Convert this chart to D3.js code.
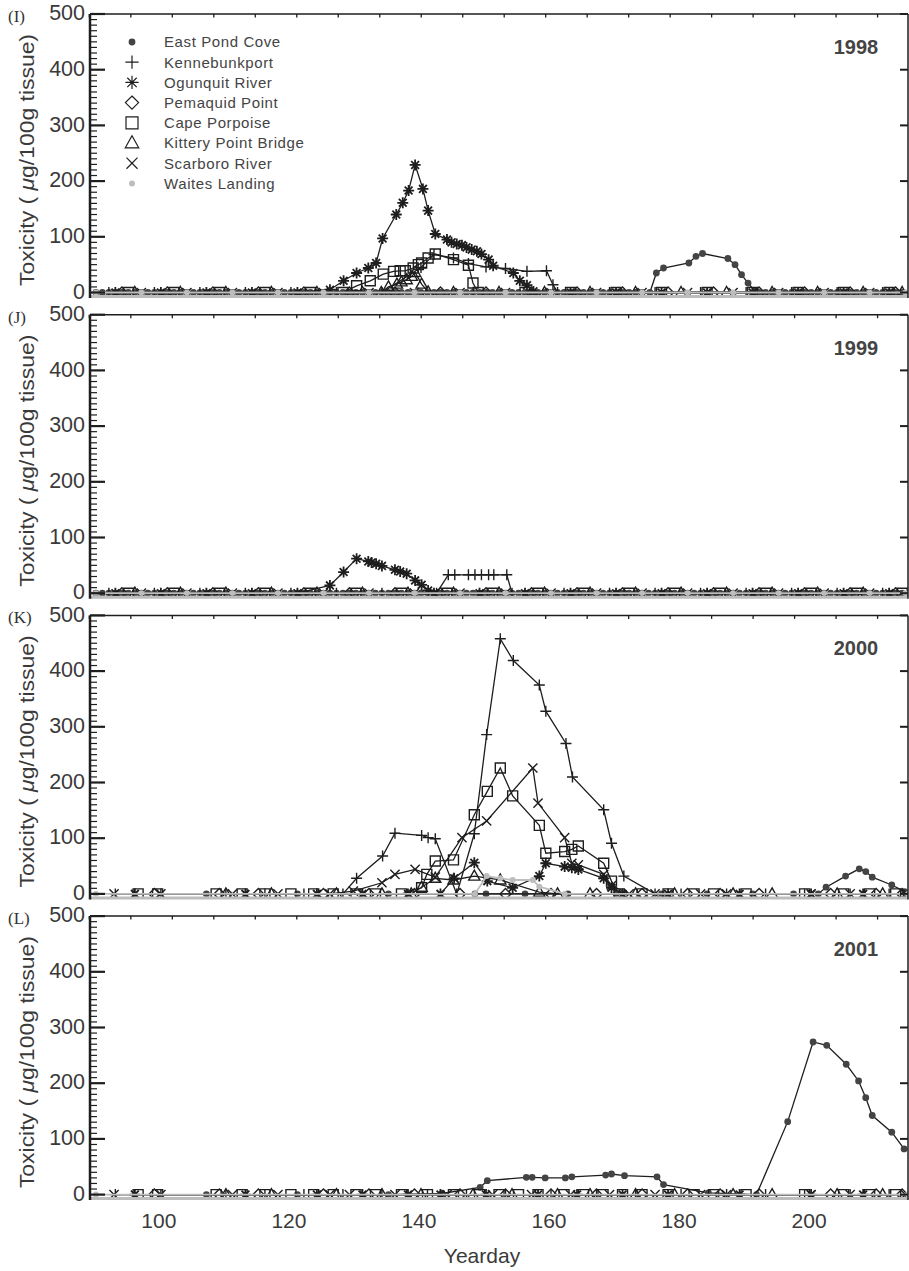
<!DOCTYPE html>
<html><head><meta charset="utf-8">
<script src="https://cdn.jsdelivr.net/npm/d3@7"></script>
<style>body{margin:0;background:#fff}</style>
</head><body>
<svg id="chart" width="909" height="1271"></svg>
<script>
// ---- labels ----
const stationNames = ["East Pond Cove","Kennebunkport","Ogunquit River","Pemaquid Point","Cape Porpoise","Kittery Point Bridge","Scarboro River","Waites Landing"];
const stationSymbols = ["dot","plus","asterisk","diamond","square","triangle","times","greydot"];
const yearLabels = ["1998","1999","2000","2001"];
const panelTags = ["(I)","(J)","(K)","(L)"];
const yTickValues = [0,100,200,300,400,500];
const xTickValues = [100,120,140,160,180,200];

// ---- 1998: [yearday, toxicity] ----
const eastPondCoveZeroDays1998 = [90,91,92,93,94,95,96,97,98,99,100,101,102,103,104,105,106,107,108,109,110,111,112,113,114,115,116,117,118,119,120,121,122,123,124,125,126,127,128,129,130,131,132,133,134,135,136,137,138,139,140,141,142,143,144,145,146,147,148,149,150,151,152,153,154,155,156,157,158,159,160,161,162,163,164,165,166,167,168,169,170,171,172,173,174,192,193,194,195,196,197,198,199,200,201,202,203,204,205,206,207,208,209,210,211,212,213,214];
const eastPondCove1998 = [[175.2,0],[176.2,35],[177.3,44],[181.2,53],[182.3,65],[183.3,70],[187.2,61],[188.3,50],[189.3,32],[190.3,17],[191.3,3]];
const kennebunkport1998 = [[92,0],[99,0],[106,0],[113,0],[120,0],[127,0],[134,0],[140,45],[142,68],[145,62],[147.3,52],[150,46],[153,43],[156.3,38],[159.3,39],[160.3,14],[161,0],[169,0],[176,0],[183,0],[190,0],[197,0],[204,0],[211,0]];
const ogunquit1998 = [[93,0],[100,0],[107,0],[114,0],[121,0],[126,5],[128.1,21],[130.1,35],[131.9,44],[133.1,53],[134.1,97],[136.2,140],[137.2,161],[138.1,183],[139.1,229],[140.3,186],[141.1,147],[142.2,105],[144,95],[144.7,90],[145.5,87],[146.3,85],[147,81],[147.8,77],[148.6,74],[149.3,69],[150.4,59],[151.1,48],[154.2,35],[155.2,21],[156.3,13],[157.3,2],[163,0],[170,0],[177,0],[184,0],[191,0],[198,0],[205,0],[212,0]];
const pemaquid1998 = [[94,0],[101,0],[108,0],[115,0],[122,0],[129,0],[136,0],[143,0],[150,0],[157,0],[164,0],[171,0],[178,0],[185,0],[192,0],[199,0],[206,0],[213,0]];
const capePorpoise1998 = [[95,0],[102,0],[109,0],[116,0],[123,0],[128,0],[130.1,12],[132.2,21],[134.2,33],[135.8,38],[136.8,39],[137.6,39],[138.8,44],[139.6,50],[140.1,53],[141.1,62],[142.2,69],[145,59],[147.3,49],[148,17],[148.8,0],[156,0],[163,0],[170,0],[177,0],[184,0],[191,0],[198,0],[205,0],[212,0]];
const kittery1998 = [[96,0],[103,0],[110,0],[117,0],[124,0],[131,0],[133.9,0],[135,10],[136.3,15],[137,19],[137.8,23],[138.6,29],[139.1,36],[140.1,15],[141.1,1],[145,0],[152,0],[159,0],[166,0],[173,0],[180,0],[187,0],[194,0],[201,0],[208,0],[214,0]];
const scarboro1998 = [[97,0],[104,0],[111,0],[118,0],[125,0],[132,0],[139,0],[146,0],[153,0],[160,0],[167,0],[174,0],[181,0],[188,0],[195,0],[202,0],[209,0]];
const waites1998 = [[90,0],[97,0],[104,0],[111,0],[118,0],[125,0],[132,0],[139,0],[146,0],[153,0],[160,0],[167,0],[174,0],[181,0],[188,0],[195,0],[202,0],[209,0],[214.5,0]];

// ---- 1999 ----
const eastPondCoveZeroDays1999 = [90,91,92,93,94,95,96,97,98,99,100,101,102,103,104,105,106,107,108,109,110,111,112,113,114,115,116,117,118,119,120,121,122,123,124,125,126,127,128,129,130,131,132,133,134,135,136,137,138,139,140,141,142,143,144,145,146,147,148,149,150,151,152,153,154,155,156,157,158,159,160,161,162,163,164,165,166,167,168,169,170,171,172,173,174,175,176,177,178,179,180,181,182,183,184,185,186,187,188,189,190,191,192,193,194,195,196,197,198,199,200,201,202,203,204,205,206,207,208,209,210,211,212,213,214];
const eastPondCove1999 = [];
const kennebunkport1999 = [[92,0],[99,0],[106,0],[113,0],[120,0],[127,0],[134,0],[142.4,0],[144.2,33],[145.2,33],[147.3,33],[148.3,33],[149.3,33],[150.4,33],[151.2,33],[153.2,33],[154,0],[162,0],[169,0],[176,0],[183,0],[190,0],[197,0],[204,0],[211,0]];
const ogunquit1999 = [[93,0],[100,0],[107,0],[114,0],[121,0],[126,14],[128.1,38],[130.1,62],[131.9,57],[132.4,55],[133.1,53],[134,49],[136,42],[136.8,39],[137.8,35],[139.1,23],[140.1,15],[141.1,5],[142,0],[149,0],[156,0],[163,0],[170,0],[177,0],[184,0],[191,0],[198,0],[205,0],[212,0]];
const pemaquid1999 = [[94,0],[101,0],[108,0],[115,0],[122,0],[129,0],[136,0],[143,0],[150,0],[157,0],[164,0],[171,0],[178,0],[185,0],[192,0],[199,0],[206,0],[213,0]];
const capePorpoise1999 = [[95,0],[102,0],[109,0],[116,0],[123,0],[130,0],[137,0],[144,0],[151,0],[158,0],[165,0],[172,0],[179,0],[186,0],[193,0],[200,0],[207,0],[214,0]];
const kittery1999 = [[96,0],[103,0],[110,0],[117,0],[124,0],[131,0],[138,0],[145,0],[152,0],[159,0],[166,0],[173,0],[180,0],[187,0],[194,0],[201,0],[208,0]];
const scarboro1999 = [[97,0],[104,0],[111,0],[118,0],[125,0],[132,0],[139,0],[146,0],[153,0],[160,0],[167,0],[174,0],[181,0],[188,0],[195,0],[202,0],[209,0]];
const waites1999 = [[90,0],[97,0],[104,0],[111,0],[118,0],[125,0],[132,0],[139,0],[146,0],[153,0],[160,0],[167,0],[174,0],[181,0],[188,0],[195,0],[202,0],[209,0],[214.5,0]];

// ---- 2000 ----
const eastPondCove2000 = [[107,0],[121,0],[135,0],[148.3,0],[150,0],[156,0],[162.6,0],[170,0],[177,0],[184,0],[191,0],[197.3,0],[201.1,0],[202.3,12],[205.3,32],[207.4,45],[208.4,40],[209.4,30],[212.4,16],[214.4,4]];
const kennebunkport2000 = [[93,0],[100,0],[110,0],[116,0],[122,0],[128,0],[130.1,28],[134.1,68],[136,109],[140.1,105],[141.1,101],[142.2,99],[145.5,0],[148.2,108],[150.1,286],[152.2,458],[154.2,419],[158.2,375],[159.2,328],[162.3,270],[163.3,210],[168.1,151],[169.3,91],[171.2,32],[176,0],[180,0],[187,0],[193,0],[199,0],[206,0],[212,0]];
const ogunquit2000 = [[96,0],[113,0],[124,0],[131,0],[138,0],[143,0],[145.1,28],[148.2,56],[150.2,23],[154.1,11],[158.2,32],[159.2,55],[162.1,49],[163.2,47],[164.2,44],[168.1,28],[169.3,11],[171,0],[178,0],[189,0],[200,0],[208,0]];
const pemaquid2000 = [[99,0],[109,0],[115,0],[125,0],[132,0],[139,0],[146,0],[153,0],[160,0],[167,0],[174,0],[181,0],[186,0],[192,0],[203,0],[210,0],[214,0]];
const capePorpoise2000 = [[96.5,0],[99.5,0],[108.5,0],[112.5,0],[116,0],[120,0],[123.5,0],[126.5,0],[130,0],[133,0],[137,0],[140.1,11],[140.9,35],[142.2,59],[145,61],[148.2,142],[150.2,184],[152.2,226],[154.1,176],[158.2,123],[159.2,73],[162.1,76],[163.2,80],[164.2,86],[168.1,55],[169.3,23],[170.5,0],[174,0],[178,0],[182,0],[185,0],[190,0],[199,0],[205,0],[209,0],[213,0]];
const kittery2000 = [[110,0],[117,0],[127,0],[134,0],[138.5,0],[140.1,12],[142.2,28],[145,25],[148.2,32],[152.2,25],[158.2,3],[161,0],[166,0],[173,0],[179,0],[188,0],[194,0],[204,0],[211,0]];
const scarboro2000 = [[92.8,0],[100,0],[111,0],[118,0],[126,0],[129.6,5],[134,20],[136,35],[139.1,44],[142.2,30],[146.3,101],[150.1,131],[157.2,226],[158,163],[162.1,101],[163.2,55],[164.2,52],[168.1,35],[169.3,15],[172,0],[176,0],[183,0],[187,0],[200,0],[206,0],[214.5,0]];
const waites2000 = [[90,0],[148.3,0],[150.1,32],[152.2,28],[154.1,25],[157.2,25],[158.2,13],[162.1,0],[214.9,0]];

// ---- 2001 ----
const eastPondCove2001 = [[107,0],[121,0],[135,0],[143.2,2],[149.1,13],[150.2,25],[156.2,31],[157.1,31],[159.1,30],[162.2,30],[163.2,32],[168.4,35],[169.3,37],[171.3,34],[176.3,32],[177.3,18],[184.2,3],[191.6,0],[196.4,131],[200.3,274],[202.4,268],[205.4,234],[207.3,204],[208.4,174],[209.4,142],[212.4,112],[214.3,82]];
const kennebunkport2001 = [[93,0],[100,0],[110,0],[116,0],[122,0],[128,0],[134,0],[141,0],[147,0],[153,0],[160,0],[167,0],[173,0],[180,0],[187,0],[193,0],[199,0],[206,0],[212,0]];
const ogunquit2001 = [[96,0],[113,0],[124,0],[131,0],[138,0],[143,0],[150,0],[158,0],[164,0],[171,0],[178,0],[189,0],[200,0],[208,0]];
const pemaquid2001 = [[99,0],[109,0],[115,0],[125,0],[132,0],[139,0],[146,0],[153,0],[160,0],[167,0],[174,0],[181,0],[186,0],[192,0],[203,0],[210,0],[214,0]];
const capePorpoise2001 = [[96.5,0],[99.5,0],[108.5,0],[112.5,0],[116,0],[120,0],[123.5,0],[126.5,0],[130,0],[133,0],[137,0],[141,0],[145,0],[149,0],[152,0],[155,0],[158,0],[162,0],[165,0],[168,0],[171,0],[174,0],[178,0],[182,0],[185,0],[190,0],[199,0],[205,0],[209,0],[213,0]];
const kittery2001 = [[110,0],[117,0],[127,0],[134,0],[140,0],[148,0],[154,0],[161,0],[166,0],[173,0],[179,0],[188,0],[194,0],[204,0],[211,0]];
const scarboro2001 = [[92.8,0],[100,0],[111,0],[118,0],[126,0],[129,0],[136,0],[144,0],[151,0],[157,0],[163,0],[169,0],[176,0],[183,0],[187,0],[200,0],[206,0],[214.5,0]];
const waites2001 = [[90,0],[214.9,0]];

// merge daily zero readings with the measured values, ordered by day
function withZeroDays(readings, zeroDays) {
  return readings.concat(zeroDays.map(d => [d, 0])).sort((a, b) => a[0] - b[0]);
}

const panelSeries = [
  [withZeroDays(eastPondCove1998, eastPondCoveZeroDays1998),kennebunkport1998,ogunquit1998,pemaquid1998,capePorpoise1998,kittery1998,scarboro1998,waites1998],
  [withZeroDays(eastPondCove1999, eastPondCoveZeroDays1999),kennebunkport1999,ogunquit1999,pemaquid1999,capePorpoise1999,kittery1999,scarboro1999,waites1999],
  [eastPondCove2000,kennebunkport2000,ogunquit2000,pemaquid2000,capePorpoise2000,kittery2000,scarboro2000,waites2000],
  [eastPondCove2001,kennebunkport2001,ogunquit2001,pemaquid2001,capePorpoise2001,kittery2001,scarboro2001,waites2001]
];

// ---- layout ----
const svg = d3.select("#chart");
const left = 90, right = 908;
const panelTops = [14, 314.7, 615.4, 916.1];
const zeroOffset = 278.5;     // px from the 500 line down to the 0 line
const ink = "#1e1e1e", textInk = "#3a3a3a";
const sans = "'Liberation Sans', Arial, Helvetica, sans-serif";

const x = d3.scaleLinear().domain([89.1, 214.9]).range([left, right]);
const topTickDays = d3.range(89.0, 215, 6.38);

function symbolPath(kind, k) {
  const a = 5.5 * k, b = 3.9 * k, c = 5 * k, t = 4.6 * k;
  switch (kind) {
    case "plus": return `M${-a},0H${a}M0,${-a}V${a}`;
    case "times": return `M${-t},${-t}L${t},${t}M${-t},${t}L${t},${-t}`;
    case "asterisk": return `M${-a},0H${a}M0,${-a}V${a}M${-b},${-b}L${b},${b}M${-b},${b}L${b},${-b}`;
    case "diamond": return `M0,${-a}L${a},0L0,${a}L${-a},0Z`;
    case "square": return `M${-c},${-c}H${c}V${c}H${-c}Z`;
    case "triangle": return `M0,${-6 * k}L${5.6 * k},${4 * k}H${-5.6 * k}Z`;
  }
  return null;
}

function drawMarker(g, kind, px, py, k = 1, sw) {
  if (kind === "dot") {
    g.append("circle").attr("cx", px).attr("cy", py).attr("r", 3.4).attr("fill", "#444");
  } else if (kind === "greydot") {
    g.append("circle").attr("cx", px).attr("cy", py).attr("r", 3).attr("fill", "#bdbdbd");
  } else {
    g.append("path").attr("transform", `translate(${px},${py})`)
      .attr("d", symbolPath(kind, k)).attr("fill", "none")
      .attr("stroke", ink).attr("stroke-width", sw || (kind === "asterisk" ? 1.8 : 1.4));
  }
}

panelTops.forEach((top, p) => {
  const zeroY = top + zeroOffset;
  const bottom = zeroY + 5.5;
  const y = d3.scaleLinear().domain([0, 500]).range([zeroY, top]);
  const g = svg.append("g");

  const clipId = "clip" + p;
  svg.append("clipPath").attr("id", clipId).append("rect")
    .attr("x", left).attr("y", top).attr("width", right - left).attr("height", zeroOffset + 2.5);

  // grey floor line
  g.append("line").attr("x1", left).attr("x2", right).attr("y1", zeroY + 4).attr("y2", zeroY + 4)
    .attr("stroke", "#bdbdbd").attr("stroke-width", 3);

  const plot = g.append("g").attr("clip-path", `url(#${clipId})`);
  const line = d3.line().x(d => x(d[0])).y(d => y(d[1]));

  panelSeries[p].forEach((series, s) => {
    const kind = stationSymbols[s];
    const grey = kind === "greydot";
    plot.append("path").attr("d", line(series)).attr("fill", "none")
      .attr("stroke", grey ? "#bdbdbd" : ink).attr("stroke-width", grey ? 1.8 : 1.3);
    series.forEach(d => drawMarker(plot, kind, x(d[0]), y(d[1])));
  });

  // frame: top, right, left
  g.append("line").attr("x1", left).attr("x2", right).attr("y1", top).attr("y2", top)
    .attr("stroke", ink).attr("stroke-width", 1.5);
  g.append("line").attr("x1", right).attr("x2", right).attr("y1", top).attr("y2", bottom)
    .attr("stroke", ink).attr("stroke-width", 1.5);
  g.append("line").attr("x1", left).attr("x2", left).attr("y1", top).attr("y2", bottom)
    .attr("stroke", ink).attr("stroke-width", 2.5);

  // top minor ticks
  topTickDays.forEach(dv => {
    g.append("line").attr("x1", x(dv)).attr("x2", x(dv)).attr("y1", top).attr("y2", top + 3.5)
      .attr("stroke", ink).attr("stroke-width", 1.3);
  });

  // left ticks every 10, long ones every 100
  d3.range(0, 501, 10).forEach(v => {
    const major = v % 100 === 0;
    g.append("line").attr("x1", left).attr("x2", left + (major ? 15 : 7))
      .attr("y1", y(v)).attr("y2", y(v)).attr("stroke", ink).attr("stroke-width", major ? 2.2 : 1.2);
  });
  // right major ticks
  yTickValues.forEach(v => {
    g.append("line").attr("x1", right - 8).attr("x2", right).attr("y1", y(v)).attr("y2", y(v))
      .attr("stroke", ink).attr("stroke-width", 2);
  });

  // y tick labels
  yTickValues.forEach(v => {
    g.append("text").attr("x", 85).attr("y", y(v) - 1.5).attr("dy", "0.36em")
      .attr("text-anchor", "end").attr("font-family", sans).attr("font-size", 21.5)
      .attr("fill", textInk).text(v);
  });

  // panel tag
  g.append("text").attr("x", 8).attr("y", top + 8)
    .attr("font-family", "'Liberation Serif', 'Times New Roman', serif").attr("font-size", 17)
    .attr("fill", "#333").text(panelTags[p]);

  // year
  g.append("text").attr("x", 856).attr("y", top + 40).attr("text-anchor", "middle")
    .attr("font-family", sans).attr("font-weight", "bold").attr("font-size", 20)
    .attr("fill", "#444").text(yearLabels[p]);

  // y axis title
  const ty = g.append("text")
    .attr("transform", `translate(34,${top + 146}) rotate(-90)`)
    .attr("text-anchor", "middle").attr("font-family", sans).attr("font-size", 20)
    .attr("textLength", 252).attr("lengthAdjust", "spacingAndGlyphs")
    .attr("fill", textInk);
  ty.append("tspan").text("Toxicity ( ");
  ty.append("tspan").attr("font-style", "italic").text("\u03bc");
  ty.append("tspan").text("g/100g tissue)");

  if (p === panelTops.length - 1) {
    xTickValues.forEach(v => {
      g.append("text").attr("x", x(v) - 2).attr("y", 1228).attr("text-anchor", "middle")
        .attr("font-family", sans).attr("font-size", 21).attr("fill", textInk).text(v);
    });
    g.append("text").attr("x", 482).attr("y", 1263).attr("text-anchor", "middle")
      .attr("font-family", sans).attr("font-size", 21).attr("fill", textInk).text("Yearday");
  }

  if (p === 0) {
    const lg = g.append("g");
    stationNames.forEach((name, i) => {
      const ly = 42 + i * 20.2;
      drawMarker(lg, stationSymbols[i], 132, ly, 1.2, 1.2);
      lg.append("text").attr("x", 164).attr("y", ly).attr("dy", "0.36em")
        .attr("font-family", sans).attr("font-size", 15).attr("letter-spacing", 0.6)
        .attr("fill", "#444").text(name);
    });
  }
});
</script>
</body></html>
